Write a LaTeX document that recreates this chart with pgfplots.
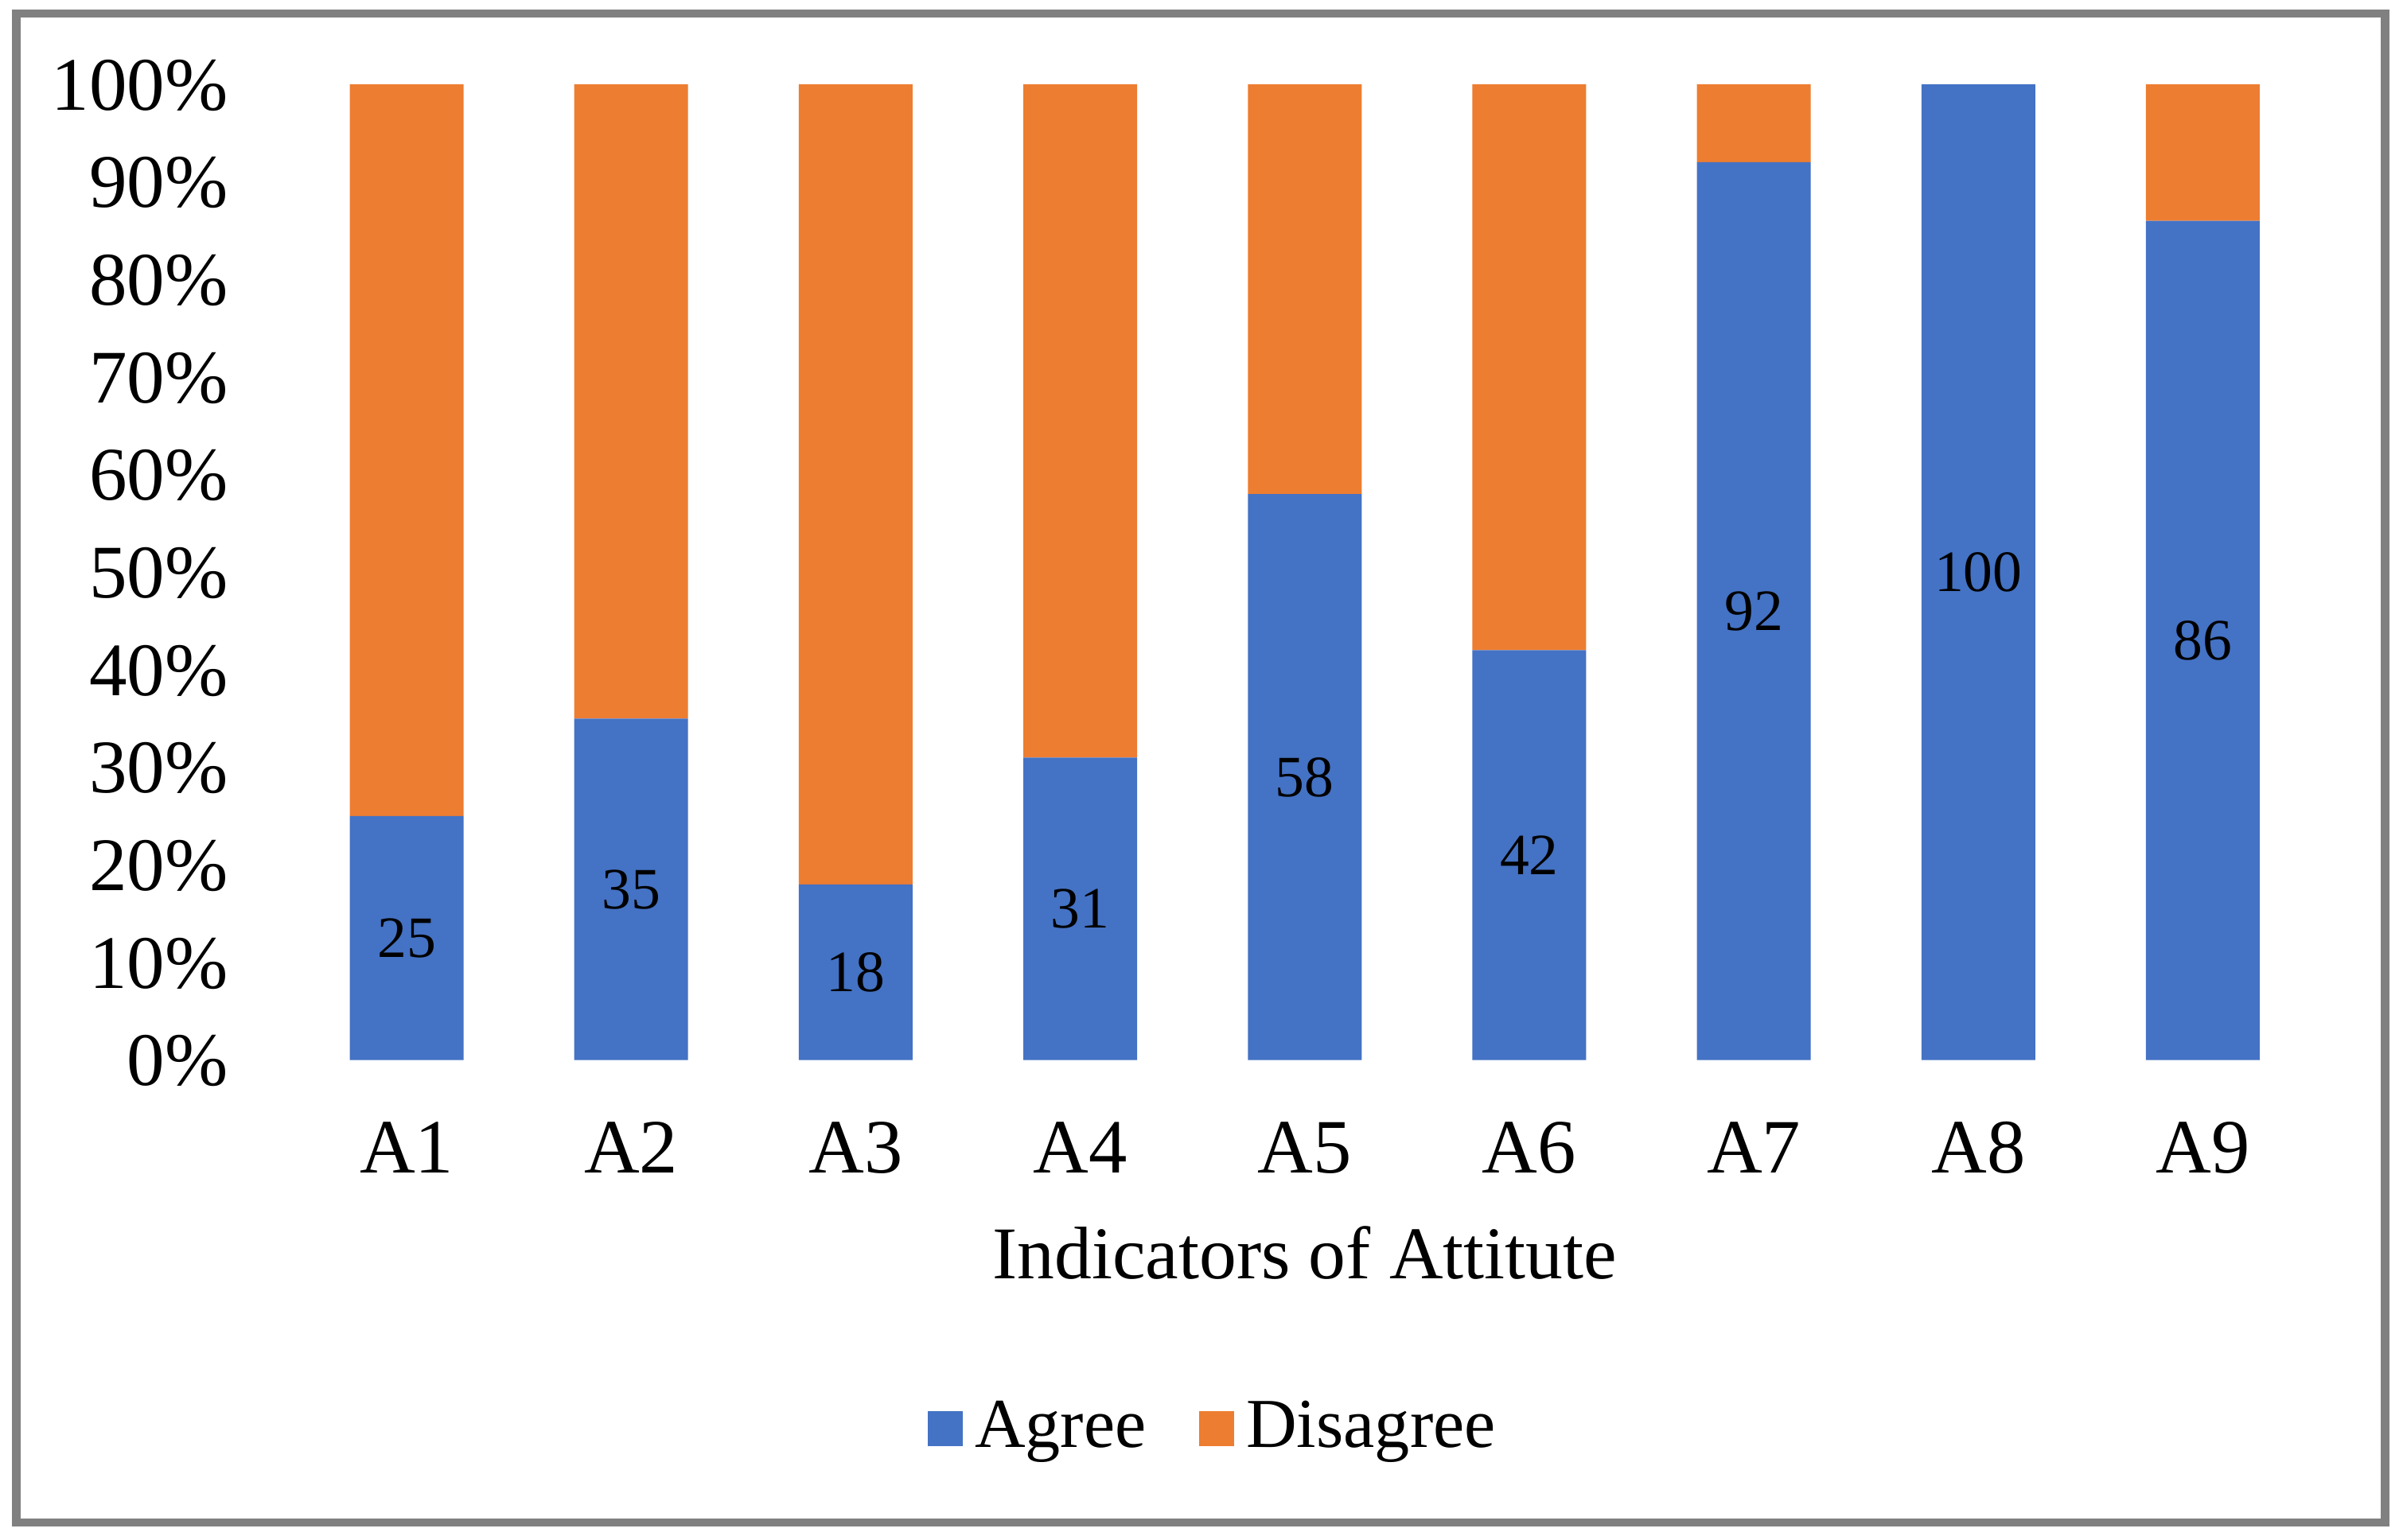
\documentclass[border=0pt]{standalone}
\usepackage{fontspec}
\setmainfont{Liberation Serif}
\usepackage{pgfplots}
\usepackage{pgfplotstable}
\pgfplotsset{compat=1.18}

\definecolor{agree}{HTML}{4472C4}
\definecolor{disagree}{HTML}{ED7D31}
\definecolor{baseline}{HTML}{D9D9D9}
\definecolor{frame}{HTML}{808080}

\pgfplotstableread{
x agree disagree
0 25  75
1 35  65
2 18  82
3 31  69
4 58  42
5 42  58
6 92  8
7 100 0
8 86  14
}\attitude

\pgfplotsset{common/.style={
    scale only axis,
    width=331.2pt, height=160pt,
    xmin=-0.5, xmax=8.5,
    ymin=0, ymax=100,
}}

\begin{document}
\begin{tikzpicture}
\begin{axis}[
    common,
    ybar stacked,
    bar width=18.65pt,
    xtick={0,1,2,3,4,5,6,7,8},
    xticklabels={A1,A2,A3,A4,A5,A6,A7,A8,A9},
    ytick={0,10,20,30,40,50,60,70,80,90,100},
    yticklabels={0\%,10\%,20\%,30\%,40\%,50\%,60\%,70\%,80\%,90\%,100\%},
    axis line style={draw=none},
    tick style={draw=none},
    major tick length=0pt,
    xticklabel style={font=\fontsize{12.6}{14}\selectfont, anchor=base, inner sep=0pt, yshift=-18.5pt},
    yticklabel style={font=\fontsize{12.4}{14}\selectfont, anchor=base east, inner sep=0pt, xshift=-10.7pt, yshift=-4.2pt},
    xlabel={Indicators of Attitute},
    xlabel style={font=\fontsize{12.2}{14}\selectfont, at={(axis description cs:0.5,0)}, anchor=base, inner sep=0pt, yshift=-35.9pt},
    legend columns=2,
    legend style={draw=none, fill=none, font=\fontsize{11.5}{13}\selectfont,
        at={(axis description cs:0.457,-0.3775)}, anchor=center,
        /tikz/every odd column/.append style={inner xsep=1pt},
        /tikz/every even column/.append style={column sep=6.7pt}},
    legend image code/.code={\fill[#1] (0pt,-2.85pt) rectangle (5.7pt,2.85pt);},
]
\draw[baseline, line width=0.9pt] (rel axis cs:0,0) ++(0,-0.45pt) -- ([yshift=-0.45pt]rel axis cs:1,0);
\addplot[fill=agree, draw=none] table[x=x, y=agree] {\attitude};
\addlegendentry{Agree}
\addplot[fill=disagree, draw=none] table[x=x, y=disagree] {\attitude};
\addlegendentry{Disagree}
\end{axis}

% value labels, centred in the Agree segments
\begin{axis}[common, hide axis]
\addplot[draw=none, mark=none,
    point meta=explicit,
    nodes near coords={\pgfmathprintnumber[assume math mode=true]{\pgfplotspointmeta}},
    every node near coord/.append style={anchor=center, inner sep=0pt,
        font=\fontsize{9.6}{11}\selectfont, text=black},
    ] table[x=x, y expr=\thisrow{agree}/2, meta=agree] {\attitude};
\end{axis}

\draw[frame, line width=1.4pt] (-45.6pt,-75.8pt) rectangle (342.7pt,171.6pt);
\path[use as bounding box] (-48.25pt,-78.6pt) rectangle (345.6pt,173.8pt);
\end{tikzpicture}
\end{document}
